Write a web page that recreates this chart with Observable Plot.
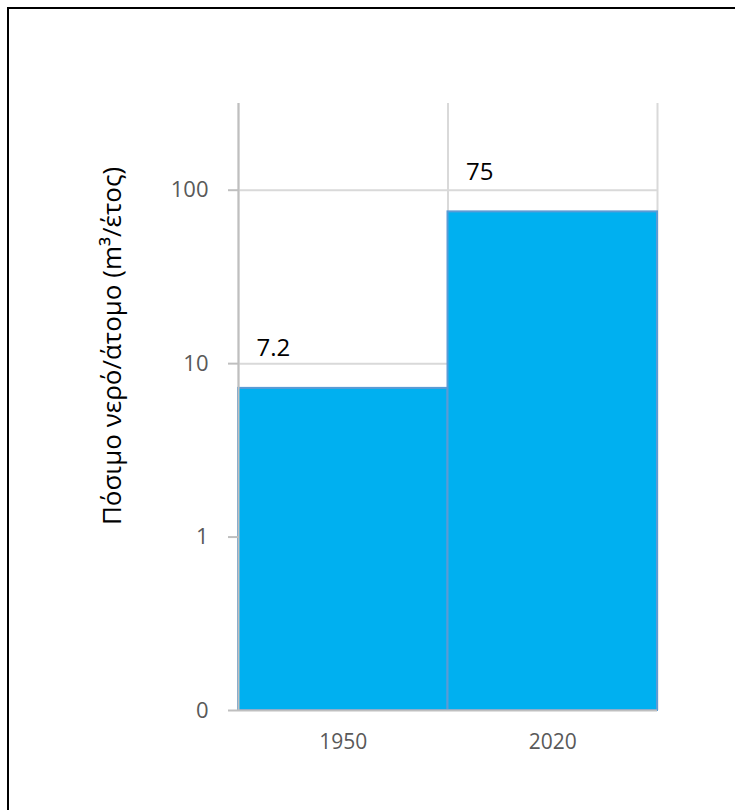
<!DOCTYPE html>
<html>
<head>
<meta charset="utf-8">
<script src="https://cdn.jsdelivr.net/npm/d3@7"></script>
<script src="https://cdn.jsdelivr.net/npm/@observablehq/plot@0.6"></script>
<style>
  html, body { margin: 0; padding: 0; background: #fff; }
  #wrap { position: relative; width: 735px; height: 810px; overflow: hidden; }
  #border { position: absolute; left: 7px; top: 7px; width: 740px; height: 820px;
            border-top: 2px solid #000; border-left: 2px solid #000; box-sizing: border-box; pointer-events: none; }
</style>
</head>
<body>
<div id="wrap"><div id="border"></div></div>
<script>
const years = ["1950", "2020"];
const values = [7.2, 75];
const labels = ["7.2", "75"];
const yTicks = [0.1, 1, 10, 100];
const yTickLabels = ["0", "1", "10", "100"];
const yTitle = "Πόσιμο νερό/άτομο (m³/έτος)";

const data = years.map((year, i) => ({year, i, value: values[i], label: labels[i]}));
const font = "'Open Sans', sans-serif";

const chart = Plot.plot({
  width: 735,
  height: 810,
  marginLeft: 238,
  marginRight: 78,
  marginTop: 103,
  marginBottom: 100,
  style: {fontFamily: font, background: "transparent", overflow: "visible"},
  x: {type: "linear", domain: [0, years.length], axis: null},
  y: {type: "log", domain: [0.1, 316.2], axis: null},
  marks: [
    Plot.ruleY(yTicks.slice(1), {stroke: "#d9d9d9", strokeWidth: 2}),
    Plot.ruleX(d3.range(years.length + 1), {stroke: "#d9d9d9", strokeWidth: 2}),
    Plot.rect(data, {x1: "i", x2: d => d.i + 1, y1: 0.1, y2: "value", fill: "#00B0F0", stroke: "#5B9BD5", strokeWidth: 2}),
    Plot.ruleX([0], {stroke: "#bfbfbf", strokeWidth: 2}),
    Plot.ruleY([0.1], {stroke: "#bfbfbf", strokeWidth: 2}),
    Plot.axisY({
      ticks: yTicks,
      tickFormat: () => "",
      tickSize: 10,
      tickPadding: 20,
      stroke: "#bfbfbf",
      strokeWidth: 2,
      label: null
    }),
    Plot.text(yTicks, {
      y: d => d,
      frameAnchor: "left",
      text: d => yTickLabels[yTicks.indexOf(d)],
      textAnchor: "end",
      dx: -30,
      fill: "#595959",
      fontSize: 22
    }),
    Plot.axisX({
      ticks: years.map((_, i) => i + 0.5),
      tickFormat: (d) => years[Math.floor(d)],
      tickSize: 0,
      tickPadding: 24,
      fill: "#595959",
      fontSize: 21,
      label: null
    }),
    Plot.text(data, {x: "i", y: "value", text: "label", textAnchor: "start", dx: 18, dy: -40, fontSize: 24, fill: "#000"}),
    Plot.text([yTitle], {frameAnchor: "left", rotate: -90, dx: -126, dy: -61, fontSize: 26, fill: "#000", textAnchor: "middle", lineAnchor: "middle"})
  ]
});
chart.style.position = "absolute";
chart.style.left = "0px";
chart.style.top = "0px";
document.getElementById("wrap").appendChild(chart);
</script>
</body>
</html>
